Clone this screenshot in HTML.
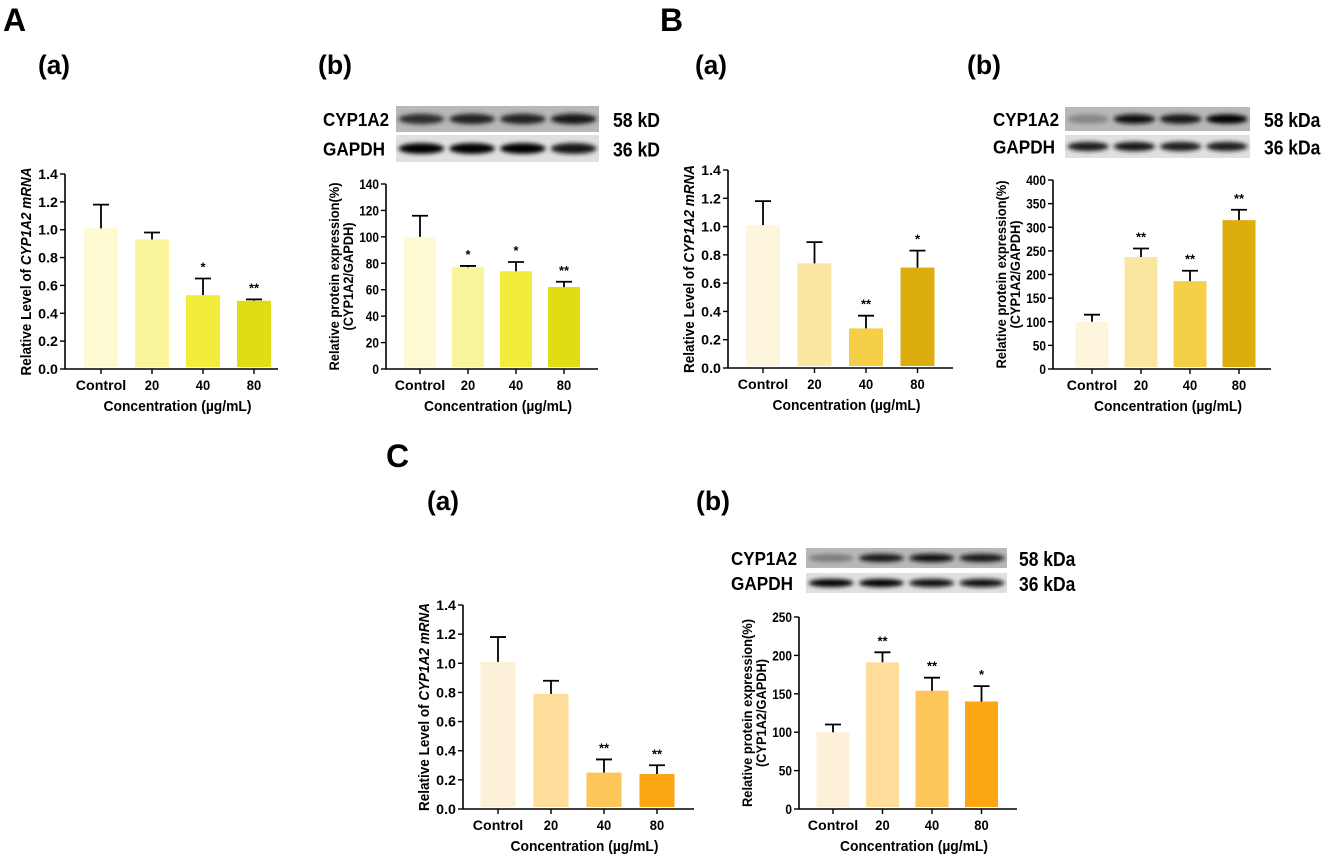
<!DOCTYPE html>
<html><head><meta charset="utf-8"><style>
html,body{margin:0;padding:0;background:#fff;}
svg{display:block;font-family:"Liberation Sans",Arial,sans-serif;font-weight:bold;}
</style></head><body>
<svg id="fig" width="1325" height="859" viewBox="0 0 1325 859" xmlns="http://www.w3.org/2000/svg">
<defs><filter id="blur" x="-20%" y="-50%" width="140%" height="200%"><feGaussianBlur stdDeviation="2.2"/></filter></defs>
<text x="3" y="31" font-size="32">A</text>
<text x="660" y="31" font-size="32">B</text>
<text x="386" y="467" font-size="32">C</text>
<text x="38" y="74" font-size="27" textLength="32" lengthAdjust="spacingAndGlyphs">(a)</text>
<text x="318" y="74" font-size="27" textLength="34" lengthAdjust="spacingAndGlyphs">(b)</text>
<text x="695" y="74" font-size="27" textLength="32" lengthAdjust="spacingAndGlyphs">(a)</text>
<text x="967" y="74" font-size="27" textLength="34" lengthAdjust="spacingAndGlyphs">(b)</text>
<text x="427" y="510" font-size="27" textLength="32" lengthAdjust="spacingAndGlyphs">(a)</text>
<text x="696" y="510" font-size="27" textLength="34" lengthAdjust="spacingAndGlyphs">(b)</text>
</svg>
<script>
const categories = ["Control","20","40","80"];
const aMrna = [1.01,0.93,0.53,0.49];
const aMrnaErr = [0.17,0.05,0.12,0.01];
const aMrnaSig = ["","","*","**"];
const aProt = [100,77,74,62];
const aProtErr = [16,1,7,4];
const aProtSig = ["","*","*","**"];
const bMrna = [1.01,0.74,0.28,0.71];
const bMrnaErr = [0.17,0.15,0.09,0.12];
const bMrnaSig = ["","","**","*"];
const bProt = [100,237,186,315];
const bProtErr = [15,18,22,22];
const bProtSig = ["","**","**","**"];
const cMrna = [1.01,0.79,0.25,0.24];
const cMrnaErr = [0.17,0.09,0.09,0.06];
const cMrnaSig = ["","","**","**"];
const cProt = [100,191,154,140];
const cProtErr = [10,13,17,20];
const cProtSig = ["","**","**","*"];
const mrnaTicks = ["0.0","0.2","0.4","0.6","0.8","1.0","1.2","1.4"];
const prot140Ticks = ["0","20","40","60","80","100","120","140"];
const prot400Ticks = ["0","50","100","150","200","250","300","350","400"];
const prot250Ticks = ["0","50","100","150","200","250"];
const aBandCyp = [0.75,0.8,0.8,0.9];
const aBandGapdh = [1,1,1,0.9];
const bBandCyp = [0.25,0.95,0.9,1];
const bBandGapdh = [0.85,0.9,0.85,0.85];
const cBandCyp = [0.3,0.9,0.95,0.9];
const cBandGapdh = [1,1,0.95,0.95];

const NS="http://www.w3.org/2000/svg";
const svg=document.getElementById('fig');
function mk(tag,attrs,parent){const e=document.createElementNS(NS,tag);for(const k in attrs)e.setAttribute(k,attrs[k]);(parent||svg).appendChild(e);return e;}

function chart(id,cfg,vals,errs,sigs,ticks,colors,twoLine){
  const g=mk('g',{});
  
  
  const ymax=parseFloat(ticks[ticks.length-1]);
  const y=v=>cfg.y0-(v/ymax)*(cfg.y0-cfg.yTop);
  const xc=i=>cfg.c0+i*cfg.step;
  const ya=mk('line',{x1:cfg.x0,y1:cfg.yTop,x2:cfg.x0,y2:cfg.y0,stroke:'#000','stroke-width':1.6},g);
  
  
  const xa=mk('line',{x1:cfg.x0,y1:cfg.y0,x2:cfg.x1,y2:cfg.y0,stroke:'#000','stroke-width':1.6},g);
  
  
  ticks.forEach(t=>{
    const v=parseFloat(t),yy=y(v);
    mk('line',{x1:cfg.x0-5,y1:yy,x2:cfg.x0,y2:yy,stroke:'#000','stroke-width':1.4},g);
    const tx=mk('text',{x:cfg.x0-7,y:yy+5,'font-size':13.5,'text-anchor':'end',textLength:t.length*6.6,lengthAdjust:'spacingAndGlyphs'},g);
    tx.textContent=t;
    
    
  });
  categories.forEach((c,i)=>{
    const cx=xc(i);
    mk('line',{x1:cx,y1:cfg.y0,x2:cx,y2:cfg.y0+5,stroke:'#000','stroke-width':1.4},g);
    const b=mk('rect',{x:cx-cfg.w/2,y:y(vals[i]),width:cfg.w,height:cfg.y0-2-y(vals[i]),fill:colors[i]},g);
    
    
    const ey=y(vals[i]+errs[i]);
    const e=mk('path',{d:`M${cx},${y(vals[i])}V${ey}M${cx-8},${ey}H${cx+8}`,stroke:'#000','stroke-width':1.8,fill:'none'},g);
    
    
    if(sigs[i]){const s=mk('text',{x:cx,y:ey-7,'font-size':13,'text-anchor':'middle'},g);s.textContent=sigs[i];
      
      }
    const tl=mk('text',{x:cx,y:cfg.y0+21,'font-size':14,'text-anchor':'middle',textLength:c.length*7.2,lengthAdjust:'spacingAndGlyphs'},g);
    tl.textContent=c;
    
    
  });
  const xt=mk('text',{x:(cfg.x0+cfg.x1)/2+6,y:cfg.y0+42,'font-size':15,'text-anchor':'middle',textLength:148,lengthAdjust:'spacingAndGlyphs'},g);
  xt.textContent='Concentration (\u00b5g/mL)';
  
  
  const cy=(cfg.y0+cfg.yTop)/2;
  if(twoLine){
    const t1=mk('text',{x:0,y:0,'font-size':14,'text-anchor':'middle',transform:`translate(${cfg.x0-47},${cy}) rotate(-90)`,textLength:188,lengthAdjust:'spacingAndGlyphs'},g);
    t1.textContent='Relative protein expression(%)';
    
    
    const t2=mk('text',{x:0,y:0,'font-size':14,'text-anchor':'middle',transform:`translate(${cfg.x0-33},${cy}) rotate(-90)`,textLength:108,lengthAdjust:'spacingAndGlyphs'},g);
    t2.textContent='(CYP1A2/GAPDH)';
    
    
  } else {
    const t=mk('text',{x:0,y:0,'font-size':14.5,'text-anchor':'middle',transform:`translate(${cfg.x0-34},${cy}) rotate(-90)`,textLength:208,lengthAdjust:'spacingAndGlyphs'},g);
    t.innerHTML='Relative Level of <tspan font-style="italic">CYP1A2 mRNA</tspan>';
    
    
  }
}

function blot(id,b,cyp,gap){
  const g=mk('g',{});
  
  
  const lw=(b.x1-b.x0)/4;
  [[b.y0,b.y1,cyp,'#b8b8b8','CYP1A2',b.kd1],[b.y2,b.y3,gap,'#e0e0e0','GAPDH',b.kd2]].forEach(([ya,yb,arr,bg,lab,kd])=>{
    const r=mk('rect',{x:b.x0,y:ya,width:b.x1-b.x0,height:yb-ya,fill:bg},g);
    
    
    arr.forEach((v,i)=>{
      const c=Math.round(255*(1-v)*0.7);
      mk('ellipse',{cx:b.x0+lw*(i+0.5),cy:(ya+yb)/2,rx:lw*0.45,ry:(yb-ya)*0.2,fill:`rgb(${c},${c},${c})`,filter:'url(#blur)'},g);
    });
    const t=mk('text',{x:b.lx,y:(ya+yb)/2+7,'font-size':18,textLength:lab==='CYP1A2'?66:62,lengthAdjust:'spacingAndGlyphs'},g);t.textContent=lab;
    
    
    const k=mk('text',{x:b.kx,y:(ya+yb)/2+8,'font-size':20,textLength:kd.length*9.4,lengthAdjust:'spacingAndGlyphs'},g);k.textContent=kd;
    
    
  });
}

const colA=['#fdf9d0','#faf59a','#f2ec3a','#e2dc12'];
const colB=['#fdf6dc','#fae6a0','#f5cf48','#ddad0e'];
const colC=['#fdf0d8','#fedc9a','#fec65a','#fba612'];

chart('a-mrna',{x0:65,x1:278,y0:369,yTop:174,c0:101,step:51,w:34},aMrna,aMrnaErr,aMrnaSig,mrnaTicks,colA,false);
chart('a-protein',{x0:386,x1:598,y0:369,yTop:184,c0:420,step:48,w:32},aProt,aProtErr,aProtSig,prot140Ticks,colA,true);
chart('b-mrna',{x0:728,x1:953,y0:368,yTop:170,c0:763,step:51.5,w:34},bMrna,bMrnaErr,bMrnaSig,mrnaTicks,colB,false);
chart('b-protein',{x0:1053,x1:1271,y0:369,yTop:180,c0:1092,step:49,w:33},bProt,bProtErr,bProtSig,prot400Ticks,colB,true);
chart('c-mrna',{x0:463,x1:694,y0:809,yTop:605,c0:498,step:53,w:35},cMrna,cMrnaErr,cMrnaSig,mrnaTicks,colC,false);
chart('c-protein',{x0:799,x1:1017,y0:809,yTop:617,c0:833,step:49.5,w:33},cProt,cProtErr,cProtSig,prot250Ticks,colC,true);

blot('a',{x0:396,x1:599,y0:106,y1:132,y2:135,y3:162,lx:323,kx:613,kd1:'58 kD',kd2:'36 kD'},aBandCyp,aBandGapdh);
blot('b',{x0:1065,x1:1250,y0:107,y1:131,y2:135,y3:158,lx:993,kx:1264,kd1:'58 kDa',kd2:'36 kDa'},bBandCyp,bBandGapdh);
blot('c',{x0:806,x1:1007,y0:548,y1:568,y2:573,y3:593,lx:731,kx:1019,kd1:'58 kDa',kd2:'36 kDa'},cBandCyp,cBandGapdh);
</script>
</body></html>
